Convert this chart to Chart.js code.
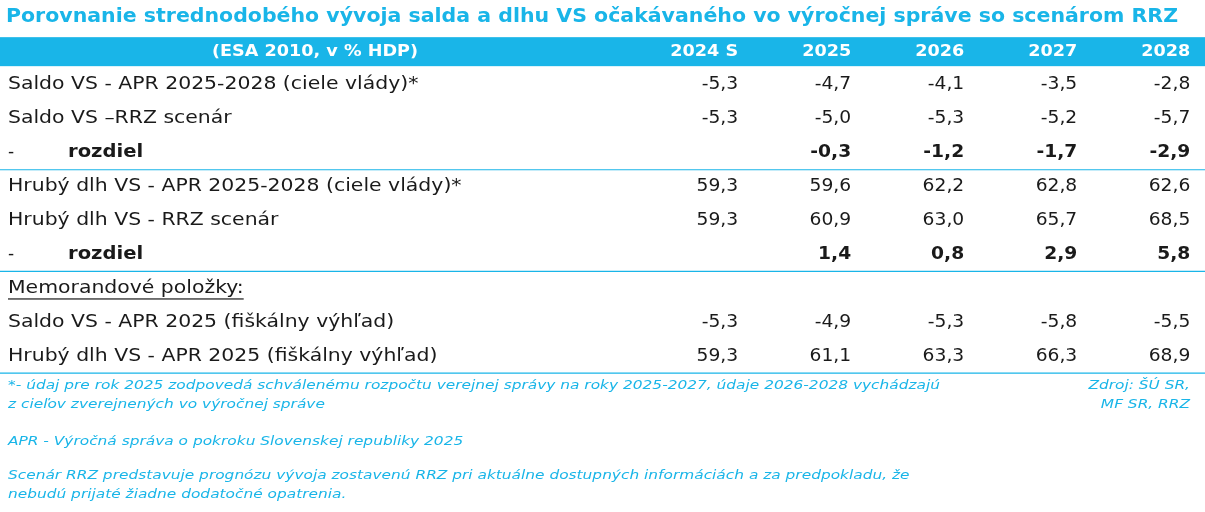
<!DOCTYPE html><html><head><meta charset="utf-8">
<script src="https://cdn.jsdelivr.net/npm/chart.js@4"></script>
<style>html,body{margin:0;padding:0;background:#fff}#c{display:block}</style></head><body>
<div style="width:1205px;height:512px"><canvas id="c"></canvas></div>
<script>
const title = 'Porovnanie strednodobého vývoja salda a dlhu VS očakávaného vo výročnej správe so scenárom RRZ';
const headerLabel = '(ESA 2010, v % HDP)';
const columns = ['2024 S','2025','2026','2027','2028'];
const rowLabels = ['Saldo VS - APR 2025-2028 (ciele vlády)*','Saldo VS –RRZ scenár','rozdiel',
 'Hrubý dlh VS - APR 2025-2028 (ciele vlády)*','Hrubý dlh VS - RRZ scenár','rozdiel',
 'Memorandové položky:','Saldo VS - APR 2025 (fiškálny výhľad)','Hrubý dlh VS - APR 2025 (fiškálny výhľad)'];
const rowValues = [
 ['-5,3','-4,7','-4,1','-3,5','-2,8'],
 ['-5,3','-5,0','-5,3','-5,2','-5,7'],
 ['','-0,3','-1,2','-1,7','-2,9'],
 ['59,3','59,6','62,2','62,8','62,6'],
 ['59,3','60,9','63,0','65,7','68,5'],
 ['','1,4','0,8','2,9','5,8'],
 ['','','','',''],
 ['-5,3','-4,9','-5,3','-5,8','-5,5'],
 ['59,3','61,1','63,3','66,3','68,9']];
const boldRows = [2,5];
const footLeft = ['*- údaj pre rok 2025 zodpovedá schválenému rozpočtu verejnej správy na roky 2025-2027, údaje 2026-2028 vychádzajú','z cieľov zverejnených vo výročnej správe'];
const footRight = ['Zdroj: ŠÚ SR,','MF SR, RRZ'];
const notes = ['APR - Výročná správa o pokroku Slovenskej republiky 2025','Scenár RRZ predstavuje prognózu vývoja zostavenú RRZ pri aktuálne dostupných informáciách a za predpokladu, že','nebudú prijaté žiadne dodatočné opatrenia.'];

const CY='#19b5e8', TXT='#1a1a1a', F='"DejaVu Sans"';
const pts=[];rowValues.forEach((r,ri)=>r.forEach((v,ci)=>pts.push({x:ci,y:ri})));
function st(c,t,x0,yy,s){c.save();c.translate(x0,yy);c.scale(s,1);c.fillText(t,0,0);c.restore();}
const tablePlugin={id:'tbl',afterDraw(ch){
 const c=ch.ctx,X=ch.scales.x,Y=ch.scales.y;const W=ch.width;
 const y=v=>Y.getPixelForValue(v), x=v=>X.getPixelForValue(v);
 c.save();c.textBaseline='middle';
 c.fillStyle=CY;c.font='bold 19px '+F;c.textAlign='left';
 st(c,title,6,y(-2.02),1172/c.measureText(title).width);
 c.fillRect(0,y(-1)-14,W,29);
 c.fillStyle='#fff';c.font='bold 16px '+F;c.textAlign='center';st(c,headerLabel,315,y(-1)+1,1.1);
 c.textAlign='right';columns.forEach((h,i)=>st(c,h,x(i),y(-1)+1,1.1));
 c.strokeStyle=CY;c.lineWidth=1.2;
 [2.5,5.5,8.5].forEach(v=>{c.beginPath();c.moveTo(0,y(v));c.lineTo(W,y(v));c.stroke();});
 const S=1.2;
 rowLabels.forEach((l,ri)=>{
  const b=boldRows.includes(ri);c.fillStyle=TXT;c.textAlign='left';
  if(b){c.font='17px '+F;c.fillText('-',8,y(ri));c.font='bold 17px '+F;st(c,l,68,y(ri),1.15);}
  else{c.font='17px '+F;st(c,l,8,y(ri),S);
   if(ri===6){const w=c.measureText(l).width*S;c.fillRect(8,y(ri)+10,w,1.2);}}
  c.font=(b?'bold ':'')+'17px '+F;c.textAlign='right';
  rowValues[ri].forEach((v,ci)=>st(c,v,x(ci),y(ri),1.1));
 });
 c.fillStyle=CY;c.font='oblique 13px '+F;c.textAlign='left';
 const s2=932/c.measureText(footLeft[0]).width;
 st(c,footLeft[0],8,386,s2);st(c,footLeft[1],8,405,s2);
 c.textAlign='right';st(c,footRight[0],1190,386,s2);st(c,footRight[1],1190,405,s2);
 c.textAlign='left';st(c,notes[0],8,442,s2);st(c,notes[1],8,476,s2);st(c,notes[2],8,495,s2);
 c.restore();}};
new Chart(document.getElementById('c'),{type:'scatter',
 data:{datasets:[{data:pts,pointRadius:0}]},
 options:{responsive:true,maintainAspectRatio:false,animation:false,layout:{padding:0},
  plugins:{legend:{display:false},tooltip:{enabled:false}},
  scales:{x:{type:'linear',min:-6.53,max:4.13,display:false},
   y:{type:'linear',reverse:true,min:-2.51,max:12.6,display:false}}},
 plugins:[tablePlugin]});
</script></body></html>
